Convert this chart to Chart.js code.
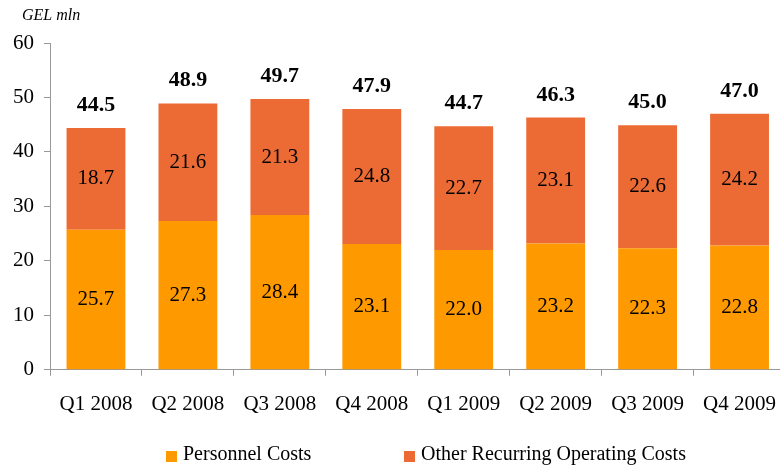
<!DOCTYPE html>
<html>
<head>
<meta charset="utf-8">
<script src="https://cdn.jsdelivr.net/npm/chart.js@4.4.0/dist/chart.umd.min.js"></script>
<style>
  body { margin: 0; background: #fff; overflow: hidden; }
  #wrap { width: 780px; height: 466px; overflow: hidden; }
</style>
</head>
<body>
<div id="wrap"><canvas id="costChart" width="792" height="466"></canvas></div>
<script>
var quarters = ['Q1 2008', 'Q2 2008', 'Q3 2008', 'Q4 2008', 'Q1 2009', 'Q2 2009', 'Q3 2009', 'Q4 2009'];
var personnel = [25.7, 27.3, 28.4, 23.1, 22.0, 23.2, 22.3, 22.8];
var otherCosts = [18.7, 21.6, 21.3, 24.8, 22.7, 23.1, 22.6, 24.2];
var totals = [44.5, 48.9, 49.7, 47.9, 44.7, 46.3, 45.0, 47.0];
var unitLabel = 'GEL mln';
var seriesNames = ['Personnel Costs', 'Other Recurring Operating Costs'];
var seriesColors = ['#FF9900', '#EC6B35'];

var serif = '"Liberation Serif", "Times New Roman", serif';

// segment values in the middle of each block, totals in bold above each bar,
// unit caption top-left and the legend along the bottom
var barLabels = {
    id: 'barLabels',
    afterDatasetsDraw: function(chart) {
        var ctx = chart.ctx;
        ctx.save();
        ctx.fillStyle = '#000';
        ctx.textAlign = 'center';
        ctx.textBaseline = 'middle';
        ctx.font = '21px ' + serif;
        chart.data.datasets.forEach(function(ds, i) {
            chart.getDatasetMeta(i).data.forEach(function(bar, j) {
                var mid = (bar.y + bar.base) / 2;
                ctx.fillText(ds.data[j].toFixed(1), bar.x, mid);
            });
        });
        var top = chart.getDatasetMeta(chart.data.datasets.length - 1).data;
        ctx.font = 'bold 22px ' + serif;
        ctx.textBaseline = 'alphabetic';
        top.forEach(function(bar, j) {
            ctx.fillText(totals[j].toFixed(1), bar.x, bar.y - 17);
        });

        ctx.font = 'italic 16px ' + serif;
        ctx.textAlign = 'left';
        ctx.fillText(unitLabel, 22, 20);

        // legend
        var legendX = [166, 404];
        ctx.font = '20px ' + serif;
        seriesNames.forEach(function(name, i) {
            ctx.fillStyle = seriesColors[i];
            ctx.fillRect(legendX[i], 451, 11, 11);
            ctx.fillStyle = '#000';
            ctx.fillText(name, legendX[i] + 17, 460);
        });
        ctx.restore();
    }
};

var chart = new Chart(document.getElementById('costChart'), {
    type: 'bar',
    data: {
        labels: quarters,
        datasets: [
            { label: seriesNames[0], data: personnel, backgroundColor: seriesColors[0] },
            { label: seriesNames[1], data: otherCosts, backgroundColor: seriesColors[1] }
        ]
    },
    options: {
        responsive: false,
        animation: false,
        layout: { padding: { top: 43, right: 0, left: 3, bottom: 33 } },
        datasets: { bar: { barPercentage: 0.64, categoryPercentage: 1.0 } },
        scales: {
            x: {
                stacked: true,
                border: { display: true, color: '#999' },
                grid: { drawOnChartArea: false, drawTicks: true, tickLength: 6, color: '#999' },
                ticks: { color: '#000', font: { family: serif, size: 21 }, padding: 16, maxRotation: 0 }
            },
            y: {
                stacked: true,
                min: 0,
                max: 60,
                border: { display: true, color: '#999' },
                grid: { drawOnChartArea: false, drawTicks: true, tickLength: 6, color: '#999' },
                ticks: { stepSize: 10, color: '#000', font: { family: serif, size: 21 }, padding: 10 }
            }
        },
        plugins: {
            tooltip: { enabled: false },
            legend: { display: false }
        }
    },
    plugins: [barLabels]
});
</script>
</body>
</html>
